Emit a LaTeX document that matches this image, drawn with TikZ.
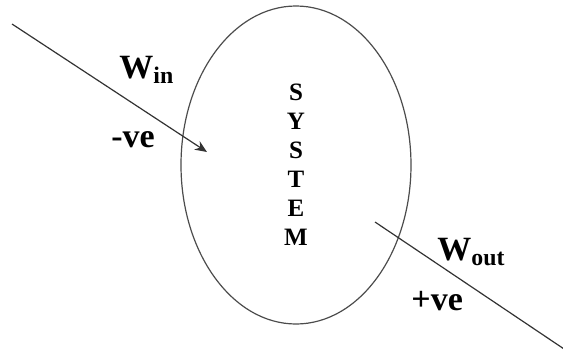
\documentclass[tikz,border=0pt]{standalone}
\usepackage{fontspec}
\setmainfont{Liberation Serif}
\usetikzlibrary{shapes.geometric, arrows.meta}
\tikzset{
	sysbody/.style={ellipse, draw=black!70, line width=0.6pt, inner sep=0pt,
		minimum width=115pt, minimum height=159pt, align=center,
		font=\bfseries\fontsize{12.5}{14.5}\selectfont},
	worklabel/.style={anchor=base west, inner sep=0pt, font=\bfseries\fontsize{17}{20}\selectfont},
	arrow/.style={-{Stealth[length=6pt,width=5pt]}, line width=0.6pt, draw=black!80},
}
\begin{document}
\begin{tikzpicture}[x=0.5pt, y=-0.5pt]
				\useasboundingbox (0,0) rectangle (563,349);
				% system boundary
				\node[sysbody] (sys) at (296,165) {S\\Y\\S\\T\\E\\M};
				% work in
				\coordinate (inA) at (12,24);
				\coordinate (inB) at (207,152);
				\draw[arrow] (inA) -- (inB);
				\node[worklabel] (win) at (119,78) {W\textsubscript{in}};
				\node[worklabel] (neg) at (111,147) {-ve};
				% work out
				\coordinate (outA) at (375,222);
				\coordinate (outB) at (573,355);
				\draw[arrow] (outA) -- (outB);
				\node[worklabel] (wout) at (437,260) {W\textsubscript{out}};
				\node[worklabel] (pos) at (411,310) {+ve};
\end{tikzpicture}
\end{document}
